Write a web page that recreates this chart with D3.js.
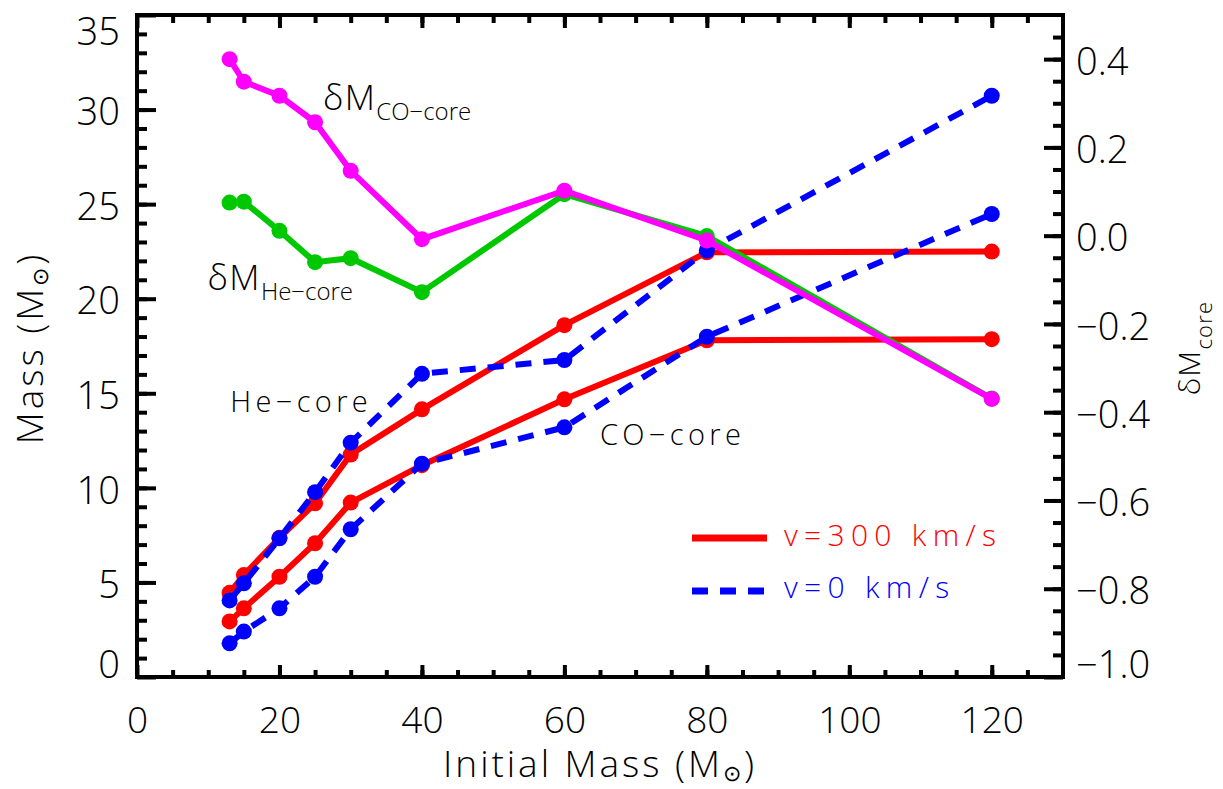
<!DOCTYPE html>
<html>
<head>
<meta charset="utf-8">
<script src="https://cdn.jsdelivr.net/npm/d3@7"></script>
<style>
  body { margin: 0; background: #fff; }
  svg text { font-family: "Open Sans", "Liberation Sans", sans-serif; font-weight: 300; }
</style>
</head>
<body>
<svg id="chart" width="1223" height="789"></svg>
<script>
// initial masses of the models
const massInit = [13, 15, 20, 25, 30, 40, 60, 80, 120];

// core masses (left axis, Msun)
const heCoreV300 = [4.45, 5.39, 7.36, 9.18, 11.76, 14.15, 18.6, 22.45, 22.49];
const coCoreV300 = [2.94, 3.63, 5.3, 7.07, 9.22, 11.2, 14.68, 17.8, 17.86];
const heCoreV0 = [4.05, 4.95, 7.33, 9.77, 12.39, 16.03, 16.76, 22.55, 30.73];
const coCoreV0 = [1.78, 2.4, 3.63, 5.3, 7.81, 11.28, 13.2, 17.99, 24.48];

// relative core mass differences (right axis)
const dMHe = [0.075, 0.077, 0.011, -0.06, -0.051, -0.128, 0.094, -0.001, -0.369];
const dMCO = [0.4, 0.349, 0.317, 0.257, 0.147, -0.008, 0.102, -0.011, -0.37];

const xTicks = [0, 20, 40, 60, 80, 100, 120];
const leftTicks = [0, 5, 10, 15, 20, 25, 30, 35];
const rightTicks = [-1.0, -0.8, -0.6, -0.4, -0.2, 0.0, 0.2, 0.4];

const legendLabels = ['v=300 km/s', 'v=0 km/s'];

const svg = d3.select('#chart');

const pLeft = 137, pRight = 1063, pTop = 15, pBottom = 677;

const x = d3.scaleLinear().domain([0, 130]).range([pLeft, pRight]);
const y = d3.scaleLinear().domain([0, 35]).range([pBottom, pTop]);
const yR = d3.scaleLinear().domain([-1.0, 0.5]).range([pBottom, pTop]);

const RED = '#ff0000', BLUE = '#0000ff', GREEN = '#00c800', MAGENTA = '#ff00ff';

function tidy(g, size) {
  g.select('.domain').remove();
  g.selectAll('.tick line').attr('stroke', '#000').attr('stroke-width', 4);
  g.selectAll('.tick text')
    .attr('font-size', size)
    .attr('fill', '#000');
}

// x axes (bottom with labels, top without)
svg.append('g')
  .attr('transform', `translate(0,${pBottom})`)
  .call(d3.axisBottom(x).tickValues(d3.range(5, 130, 5)).tickSize(-7).tickFormat(''))
  .call(g => tidy(g, 0));
svg.append('g')
  .attr('transform', `translate(0,${pBottom})`)
  .call(d3.axisBottom(x).tickValues(xTicks).tickSize(-12).tickPadding(30).tickFormat(d3.format('d')))
  .call(g => tidy(g, 37));
svg.append('g')
  .attr('transform', `translate(0,${pTop})`)
  .call(d3.axisTop(x).tickValues(d3.range(5, 130, 5)).tickSize(-8).tickFormat(''))
  .call(g => tidy(g, 0));
svg.append('g')
  .attr('transform', `translate(0,${pTop})`)
  .call(d3.axisTop(x).tickValues(xTicks).tickSize(-13).tickFormat(''))
  .call(g => tidy(g, 0));

// left axis
svg.append('g')
  .attr('transform', `translate(${pLeft},0)`)
  .call(d3.axisLeft(y).tickValues(d3.range(1, 35, 1)).tickSize(-10).tickFormat(''))
  .call(g => tidy(g, 0));
svg.append('g')
  .attr('transform', `translate(${pLeft},0)`)
  .call(d3.axisLeft(y).tickValues(leftTicks).tickSize(-19).tickPadding(17).tickFormat(d3.format('d')))
  .call(g => tidy(g, 38))
  .call(g => g.selectAll('.tick text')
    .attr('dy', d => d === 0 ? '-0.0em' : d === 35 ? '0.78em' : '0.4em'));

// right axis
svg.append('g')
  .attr('transform', `translate(${pRight},0)`)
  .call(d3.axisRight(yR).tickValues(d3.range(-0.95, 0.5, 0.05)).tickSize(-10).tickFormat(''))
  .call(g => tidy(g, 0));
svg.append('g')
  .attr('transform', `translate(${pRight},0)`)
  .call(d3.axisRight(yR).tickValues(rightTicks).tickSize(-19).tickPadding(13).tickFormat(d3.format('.1f')))
  .call(g => tidy(g, 38))
  .call(g => g.selectAll('.tick text')
    .attr('dy', d => d === -1 ? '-0.0em' : '0.4em'));

// frame
svg.append('rect')
  .attr('x', pLeft).attr('y', pTop)
  .attr('width', pRight - pLeft).attr('height', pBottom - pTop)
  .attr('fill', 'none').attr('stroke', '#000').attr('stroke-width', 4);

// series
const series = [
  { vals: heCoreV300, scale: y, color: RED, dash: null },
  { vals: coCoreV300, scale: y, color: RED, dash: null },
  { vals: heCoreV0, scale: y, color: BLUE, dash: '16,12' },
  { vals: coCoreV0, scale: y, color: BLUE, dash: '16,12' },
  { vals: dMHe, scale: yR, color: GREEN, dash: null },
  { vals: dMCO, scale: yR, color: MAGENTA, dash: null },
];

series.forEach(s => {
  const pts = s.vals.map((v, i) => [massInit[i], v]);
  const line = d3.line().x(d => x(d[0])).y(d => s.scale(d[1]));
  svg.append('path')
    .datum(pts)
    .attr('d', line)
    .attr('fill', 'none')
    .attr('stroke', s.color)
    .attr('stroke-width', 6)
    .attr('stroke-dasharray', s.dash);
  svg.append('g')
    .selectAll('circle')
    .data(pts)
    .join('circle')
    .attr('cx', d => x(d[0]))
    .attr('cy', d => s.scale(d[1]))
    .attr('r', 8)
    .attr('fill', s.color);
});

// annotations
function subLabel(px, py, main, sub, size, subSize, subDy) {
  const t = svg.append('text')
    .attr('x', px).attr('y', py)
    .attr('font-size', size);
  t.append('tspan').attr('letter-spacing', '0.04em').text(main);
  t.append('tspan').attr('font-size', subSize).attr('dy', subDy).text(sub);
  return t;
}
subLabel(x(26.1), 110, 'δM', 'CO−core', 35, 24, 10);
subLabel(x(9.9), 290, 'δM', 'He−core', 35, 24, 10);

svg.append('text')
  .attr('x', x(13.1)).attr('y', 412)
  .attr('font-size', 29).attr('letter-spacing', '0.15em')
  .text('He−core');
svg.append('text')
  .attr('x', x(65)).attr('y', 445)
  .attr('font-size', 29).attr('letter-spacing', '0.15em')
  .text('CO−core');

// legend
const legend = svg.append('g');
legend.append('line')
  .attr('x1', 692).attr('x2', 767).attr('y1', 538).attr('y2', 538)
  .attr('stroke', RED).attr('stroke-width', 7);
legend.append('text')
  .attr('x', 784).attr('y', 546)
  .attr('font-size', 30).attr('letter-spacing', '0.21em')
  .attr('fill', RED).text(legendLabels[0]);
legend.append('line')
  .attr('x1', 692).attr('x2', 764).attr('y1', 591).attr('y2', 591)
  .attr('stroke', BLUE).attr('stroke-width', 7).attr('stroke-dasharray', '16,12');
legend.append('text')
  .attr('x', 784).attr('y', 598)
  .attr('font-size', 30).attr('letter-spacing', '0.21em')
  .attr('fill', BLUE).text(legendLabels[1]);

// axis titles
const xt = svg.append('text')
  .attr('x', 600).attr('y', 777)
  .attr('text-anchor', 'middle')
  .attr('font-size', 37).attr('letter-spacing', '0.08em');
xt.append('tspan').text('Initial Mass (M');
xt.append('tspan').attr('font-size', 22).attr('dy', 4).text('⊙');
xt.append('tspan').attr('dy', -4).text(')');

const yt = svg.append('text')
  .attr('transform', 'translate(43,348) rotate(-90)')
  .attr('text-anchor', 'middle')
  .attr('font-size', 37).attr('letter-spacing', '0.08em');
yt.append('tspan').text('Mass (M');
yt.append('tspan').attr('font-size', 22).attr('dy', 5).text('⊙');
yt.append('tspan').attr('dy', -5).text(')');

const rt = svg.append('text')
  .attr('transform', 'translate(1200,348) rotate(-90)')
  .attr('text-anchor', 'middle')
  .attr('font-size', 30).attr('letter-spacing', '0.04em');
rt.append('tspan').text('δM');
rt.append('tspan').attr('font-size', 22).attr('dy', 12).text('core');
</script>
</body>
</html>
